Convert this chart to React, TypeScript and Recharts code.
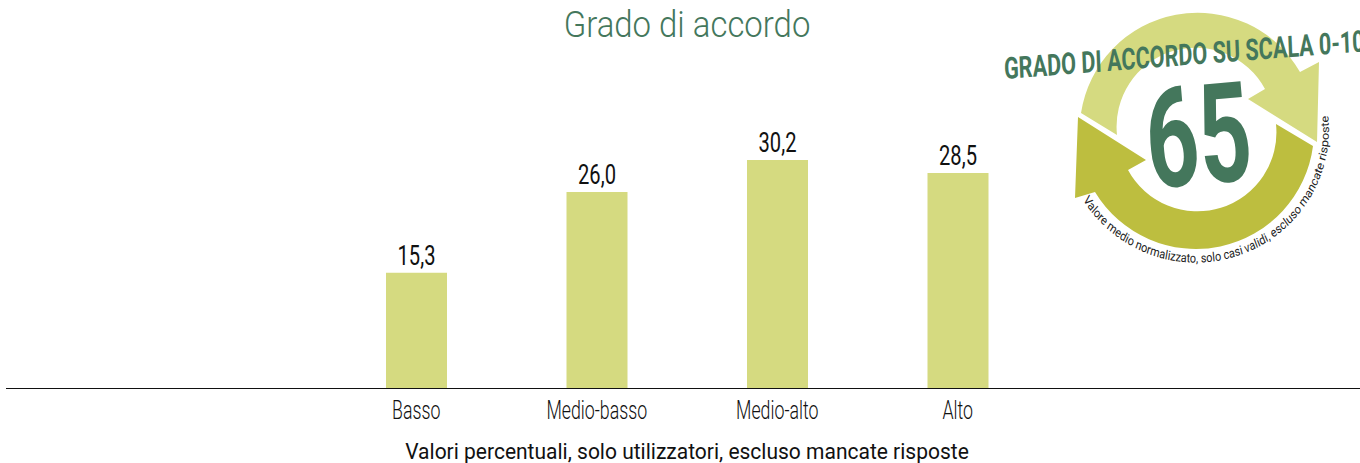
import { Bar, BarChart, LabelList, XAxis, YAxis } from 'recharts'

const categories = ['Basso', 'Medio-basso', 'Medio-alto', 'Alto']
const values = [15.3, 26.0, 30.2, 28.5]

const FONT = 'Roboto, sans-serif'
const BAR_COLOR = '#d5da80'
const DARK_OLIVE = '#bdbe3f'
const GREEN = '#44775c'
const INK = '#111'

const data = categories.map((name, i) => ({ name, value: values[i] }))

// no condensed font is installed, so squeeze the text horizontally
function Squeezed({ x, y, sx, size, fill = INK, weight = 400, children }: any) {
	return (
		<text
			transform={`translate(${x} ${y}) scale(${sx} 1)`}
			textAnchor='middle'
			fontFamily={FONT}
			fontSize={size}
			fontWeight={weight}
			fill={fill}
		>
			{children}
		</text>
	)
}

function CategoryTick({ x, y, payload }: any) {
	return (
		<Squeezed x={x} y={y + 22} sx={0.71} size={25} weight={300}>
			{payload.value}
		</Squeezed>
	)
}

function ValueLabel({ x, y, width, value }: any) {
	return (
		<Squeezed x={x + width / 2} y={y - 8} sx={0.72} size={28}>
			{Number(value).toFixed(1).replace('.', ',')}
		</Squeezed>
	)
}

function Badge() {
	return (
		<svg
			width={1360}
			height={463}
			style={{ position: 'absolute', left: 0, top: 0, pointerEvents: 'none' }}
		>
			<defs>
				<path id='captionArc' d='M1274.1 200 A156.5 133 0 0 0 1560.7 105' />
				<path id='headerArc' d='M1395 79 Q1684 63 1972 47' />
			</defs>
			<path
				d='M1117 135 L1081 113 A118 118 0 0 1 1300 72 L1319 62 L1317 142 L1248 99 L1265 89 A79 79 0 0 0 1117 135 Z'
				fill={BAR_COLOR}
			/>
			<path
				d='M1276 124 L1313 146 A118 118 0 0 1 1095 192 L1075 198 L1078 117 L1146 160 L1128 170 A79 79 0 0 0 1276 124 Z'
				fill={DARK_OLIVE}
			/>
			<g transform='rotate(-5 1198 133)'>
				<Squeezed x={1198} y={184} sx={0.66} size={139} fill={GREEN} weight={700}>
					65
				</Squeezed>
			</g>
			<g transform='scale(0.72 1)'>
				<text fontFamily={FONT} fontWeight={700} fontSize={30} fill={GREEN}>
					<textPath href='#headerArc'>GRADO DI ACCORDO SU SCALA 0-100</textPath>
				</text>
			</g>
			<g transform='scale(0.85 1)'>
				<text fontFamily={FONT} fontSize={12.8} fill='#222'>
					<textPath href='#captionArc'>
						Valore medio normalizzato, solo casi validi, escluso mancate risposte
					</textPath>
				</text>
			</g>
		</svg>
	)
}

export default function App() {
	return (
		<div
			style={{
				position: 'absolute',
				left: 0,
				top: 0,
				width: 1360,
				height: 463,
				overflow: 'hidden',
				background: '#fff',
			}}
		>
			<BarChart
				width={1360}
				height={463}
				data={data}
				margin={{ top: 86, right: 0, bottom: 34.5, left: 6 }}
				barSize={61}
			>
				<Squeezed x={687} y={37} sx={0.89} size={37} fill={GREEN} weight={300}>
					Grado di accordo
				</Squeezed>
				<Squeezed x={687} y={459} sx={0.955} size={22}>
					Valori percentuali, solo utilizzatori, escluso mancate risposte
				</Squeezed>
				<XAxis
					dataKey='name'
					height={40}
					padding={{ left: 320, right: 312 }}
					tickLine={false}
					axisLine={{ stroke: '#111', strokeWidth: 1 }}
					tick={<CategoryTick />}
					interval={0}
				/>
				<YAxis hide domain={[0, 40]} />
				<Bar dataKey='value' fill={BAR_COLOR} isAnimationActive={false}>
					<LabelList dataKey='value' content={<ValueLabel />} />
				</Bar>
			</BarChart>
			<Badge />
		</div>
	)
}
